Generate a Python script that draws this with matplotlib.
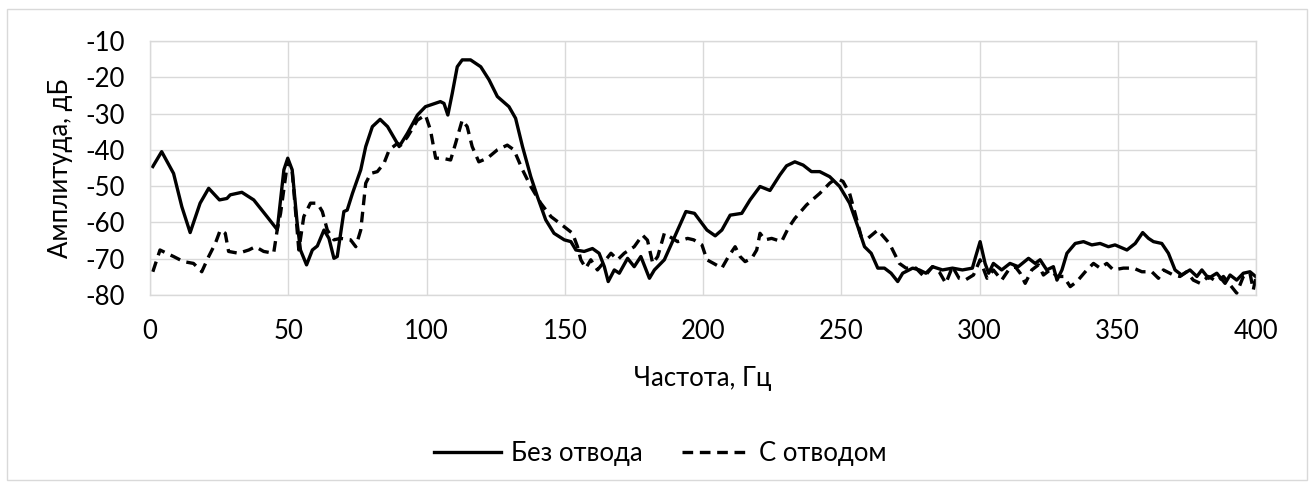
import matplotlib
matplotlib.use("Agg")
import matplotlib.pyplot as plt
from matplotlib.patches import Rectangle

plt.rcParams["font.family"] = ["Lato", "DejaVu Sans"]
plt.rcParams["axes.unicode_minus"] = False

# Спектр без отвода (Гц, дБ)
freq_no_tap = [
    1, 4.2, 8.5, 11.5, 14.5, 18.1, 21.2, 25.1, 27.8, 29, 33.2, 37.5, 42.3, 46,
    48.4, 49.8, 51.4, 53.2, 54.4, 56.6, 58.7, 60.5, 62.9, 64.7, 66.5, 67.7,
    70.1, 71.3, 73.2, 76.2, 78, 80.4, 83.2, 85.9, 90.1, 93.1, 96.7, 99.6, 105,
    106.3, 107.7, 109.3, 111.1, 112.9, 115.9, 119.6, 122.6, 125.6, 129.8,
    132.2, 134.7, 137.7, 140.1, 143.1, 146.1, 149.8, 152.2, 154, 157, 160,
    162.4, 164.3, 165.7, 167.9, 169.7, 172.7, 175.1, 177.5, 180.6, 182.4, 186,
    190.8, 193.8, 196.9, 201.4, 204.4, 206.8, 209.8, 214, 217, 220.6, 224.2,
    227.8, 230.2, 233.2, 236.2, 239.2, 242.2, 245.8, 249.4, 253, 256, 258.4,
    260.8, 263.2, 265.6, 268, 270.4, 272.2, 275.8, 278.2, 280.6, 283, 286.6,
    290.2, 293.8, 297.4, 298.6, 300.2, 302, 303.3, 305, 308, 311, 314, 317.7,
    320.1, 321.9, 324.3, 326.7, 328, 329.8, 331.6, 334.6, 337.6, 340.6, 343.6,
    346.6, 349, 353.3, 356.3, 359, 361.1, 362.9, 365.9, 368.3, 370.7, 373.1,
    376.1, 378.6, 380.4, 382.8, 385.8, 388.8, 390.6, 393, 395.4, 397.8, 400,
]
amp_no_tap = [
    -44.6, -40.5, -46.5, -55.7, -62.8, -54.7, -50.6, -53.8, -53.4, -52.4,
    -51.7, -53.8, -58.4, -62, -45.5, -42.3, -45.5, -60.2, -67.6, -71.7, -67.6,
    -66.5, -62.1, -64.4, -69.9, -69.4, -57, -56.6, -52, -45.5, -39.1, -33.6,
    -31.6, -33.6, -39.1, -35.4, -30.4, -28.1, -26.7, -27.2, -30.4, -24.4,
    -17.1, -15.2, -15.2, -17.1, -20.7, -25.3, -28.1, -31.3, -39.1, -47.4,
    -52.9, -59.3, -63, -64.8, -65.3, -67.6, -68, -67.2, -68.5, -72.2, -76.3,
    -73.1, -74, -69.9, -72.2, -69.4, -75.4, -73.1, -70.3, -62.1, -57, -57.5,
    -62.1, -63.7, -62.1, -58, -57.5, -53.8, -50.1, -51.2, -46.9, -44.4, -43.3,
    -44.2, -46, -46, -47.4, -50.1, -54.7, -61.2, -66.7, -68.5, -72.6, -72.6,
    -74, -76.3, -74, -72.6, -73.1, -74, -72.2, -73.1, -72.6, -73.1, -72.6,
    -69.4, -65.3, -71.3, -74, -71.3, -73.1, -71.3, -72.2, -69.9, -71.3, -70.3,
    -73.1, -72.2, -75.9, -73.1, -68.5, -65.8, -65.3, -66.2, -65.8, -66.7,
    -66.2, -67.6, -65.8, -62.8, -64.4, -65.3, -65.8, -68.5, -73.1, -74.5,
    -73.1, -74.9, -73.1, -75.4, -74, -76.8, -74.5, -75.9, -74, -73.6, -75,
]

# Спектр с отводом (Гц, дБ)
freq_tap = [
    1, 3.6, 6, 8.5, 12.1, 15.7, 16.9, 18.7, 21.2, 23.6, 25.4, 27.2, 28.4, 32,
    35.7, 38.1, 41.1, 44.7, 46, 47.2, 49.8, 51.4, 53.2, 53.8, 55.6, 58, 60.5,
    62.3, 64.1, 66.5, 68.9, 72.5, 74.4, 76.2, 78, 79.8, 82.2, 84.6, 86.5, 89.5,
    90.7, 93.1, 96.7, 99.6, 101.4, 103.3, 105.7, 108.7, 110.5, 112.9, 114.7,
    116.5, 118.9, 122, 125.6, 129.2, 131.6, 134.7, 137.7, 141.3, 145, 149.8,
    152.8, 154.6, 155.8, 157.6, 159.4, 161.8, 164.3, 166.7, 169.1, 171.5,
    175.1, 178.1, 179.9, 181.8, 183.6, 186, 190.8, 194.4, 196.6, 199.6, 201.4,
    203.8, 206.8, 209.2, 211.6, 213.4, 215.2, 217.6, 219.4, 220.6, 222.4,
    224.8, 228.4, 230.8, 233.2, 237.4, 242.2, 245.8, 248.2, 250.6, 253, 254.8,
    257.2, 259.6, 263.2, 267.4, 271, 273.4, 277, 280, 283, 285.4, 287.8,
    290.2, 292.6, 295, 297.8, 300.2, 302.7, 305, 308, 310.5, 312.9, 314.7,
    316.5, 318.9, 321.3, 323.1, 325.5, 328, 330.4, 332.8, 335.2, 338.8, 341.2,
    343.6, 346, 348.4, 352, 355.7, 358.7, 362.3, 364.7, 366.5, 370.1, 372.5,
    374.9, 377.3, 379.8, 382.8, 385.8, 388.2, 390.6, 393, 395.4, 397.8, 399,
    400,
]
amp_tap = [
    -73.6, -67.6, -68.5, -69.4, -70.8, -71.3, -72.2, -73.6, -69.4, -65.8,
    -62.1, -63, -68, -68.5, -67.6, -66.7, -68, -68.5, -62, -57.5, -43, -46,
    -62, -67.6, -58.4, -54.7, -54.7, -57, -62.1, -64.8, -64.4, -64.8, -66.7,
    -62.1, -49.2, -46.5, -46, -43.7, -40, -38.2, -38.7, -36.4, -31.8, -30.4,
    -34.5, -42.3, -42.3, -42.8, -38.2, -31.8, -33.6, -39.1, -43.3, -42.3, -40,
    -38.7, -40, -45.5, -50.1, -54.7, -58.4, -61.2, -63, -66.7, -70.3, -72.6,
    -70.3, -73.1, -70.8, -68.5, -70.3, -68.5, -66.7, -63.5, -64.9, -71.3,
    -69.4, -63, -65.3, -64.4, -64.8, -66.2, -70.3, -71.3, -72.6, -69.4, -66.7,
    -69.4, -70.8, -69.9, -67.6, -63, -64.8, -64.4, -65.3, -61.6, -58.9, -55.2,
    -52, -49.2, -47.8, -48.7, -52, -57, -63.9, -64.4, -62.1, -65.8, -71.3,
    -72.6, -72.6, -75, -72.2, -73.6, -76.8, -72.2, -75.4, -75.8, -74.5, -70.3,
    -75.4, -73.1, -75.9, -73.1, -72.2, -74, -76.8, -73.1, -71.7, -74.5, -73.1,
    -74.9, -74.9, -77.7, -76.3, -73.1, -71.3, -72.6, -71.3, -73.1, -72.6,
    -72.6, -73.6, -73.6, -75.4, -73.1, -74.5, -74.9, -73.6, -75.9, -76.8,
    -74.9, -76.3, -74.9, -77.2, -79.5, -74.9, -74, -78.6, -75,
]

x_ticks = list(range(0, 401, 50))
y_ticks = list(range(-80, -9, 10))

FS = 18.5

fig = plt.figure(figsize=(13.14, 4.87), dpi=100)
ax = fig.add_axes([0.1142, 0.3943, 0.8417, 0.5215])

ax.plot(freq_no_tap, amp_no_tap, color="black", lw=2.4,
        solid_joinstyle="round", label="Без отвода")
ax.plot(freq_tap, amp_tap, color="black", lw=2.4, ls=(0, (3.2, 2.0)),
        label="С отводом")

ax.set_xlim(0, 400)
ax.set_ylim(-80, -10)
ax.set_xticks(x_ticks)
ax.set_yticks(y_ticks)
ax.grid(True, color="#d9d9d9", lw=1.0)
ax.set_axisbelow(True)
for sp in ax.spines.values():
    sp.set_color("#d9d9d9")
    sp.set_linewidth(1.0)
ax.tick_params(length=0, labelsize=FS)
ax.tick_params(axis="y", pad=18)
ax.tick_params(axis="x", pad=17)

ax.set_xlabel("Частота, Гц", fontsize=FS, labelpad=16)
ax.set_ylabel("Амплитуда, дБ", fontsize=FS, labelpad=9)

fig.legend(loc="center", bbox_to_anchor=(0.5025, 0.068), ncol=2, frameon=False,
           fontsize=FS, handlelength=2.6, columnspacing=1.5, handletextpad=0.4)

# рамка области диаграммы
fig.patches.append(Rectangle((0.005, 0.014), 0.99, 0.968, transform=fig.transFigure,
                             fill=False, edgecolor="#d9d9d9", lw=1.0))

fig.savefig("out.png", dpi=100)
